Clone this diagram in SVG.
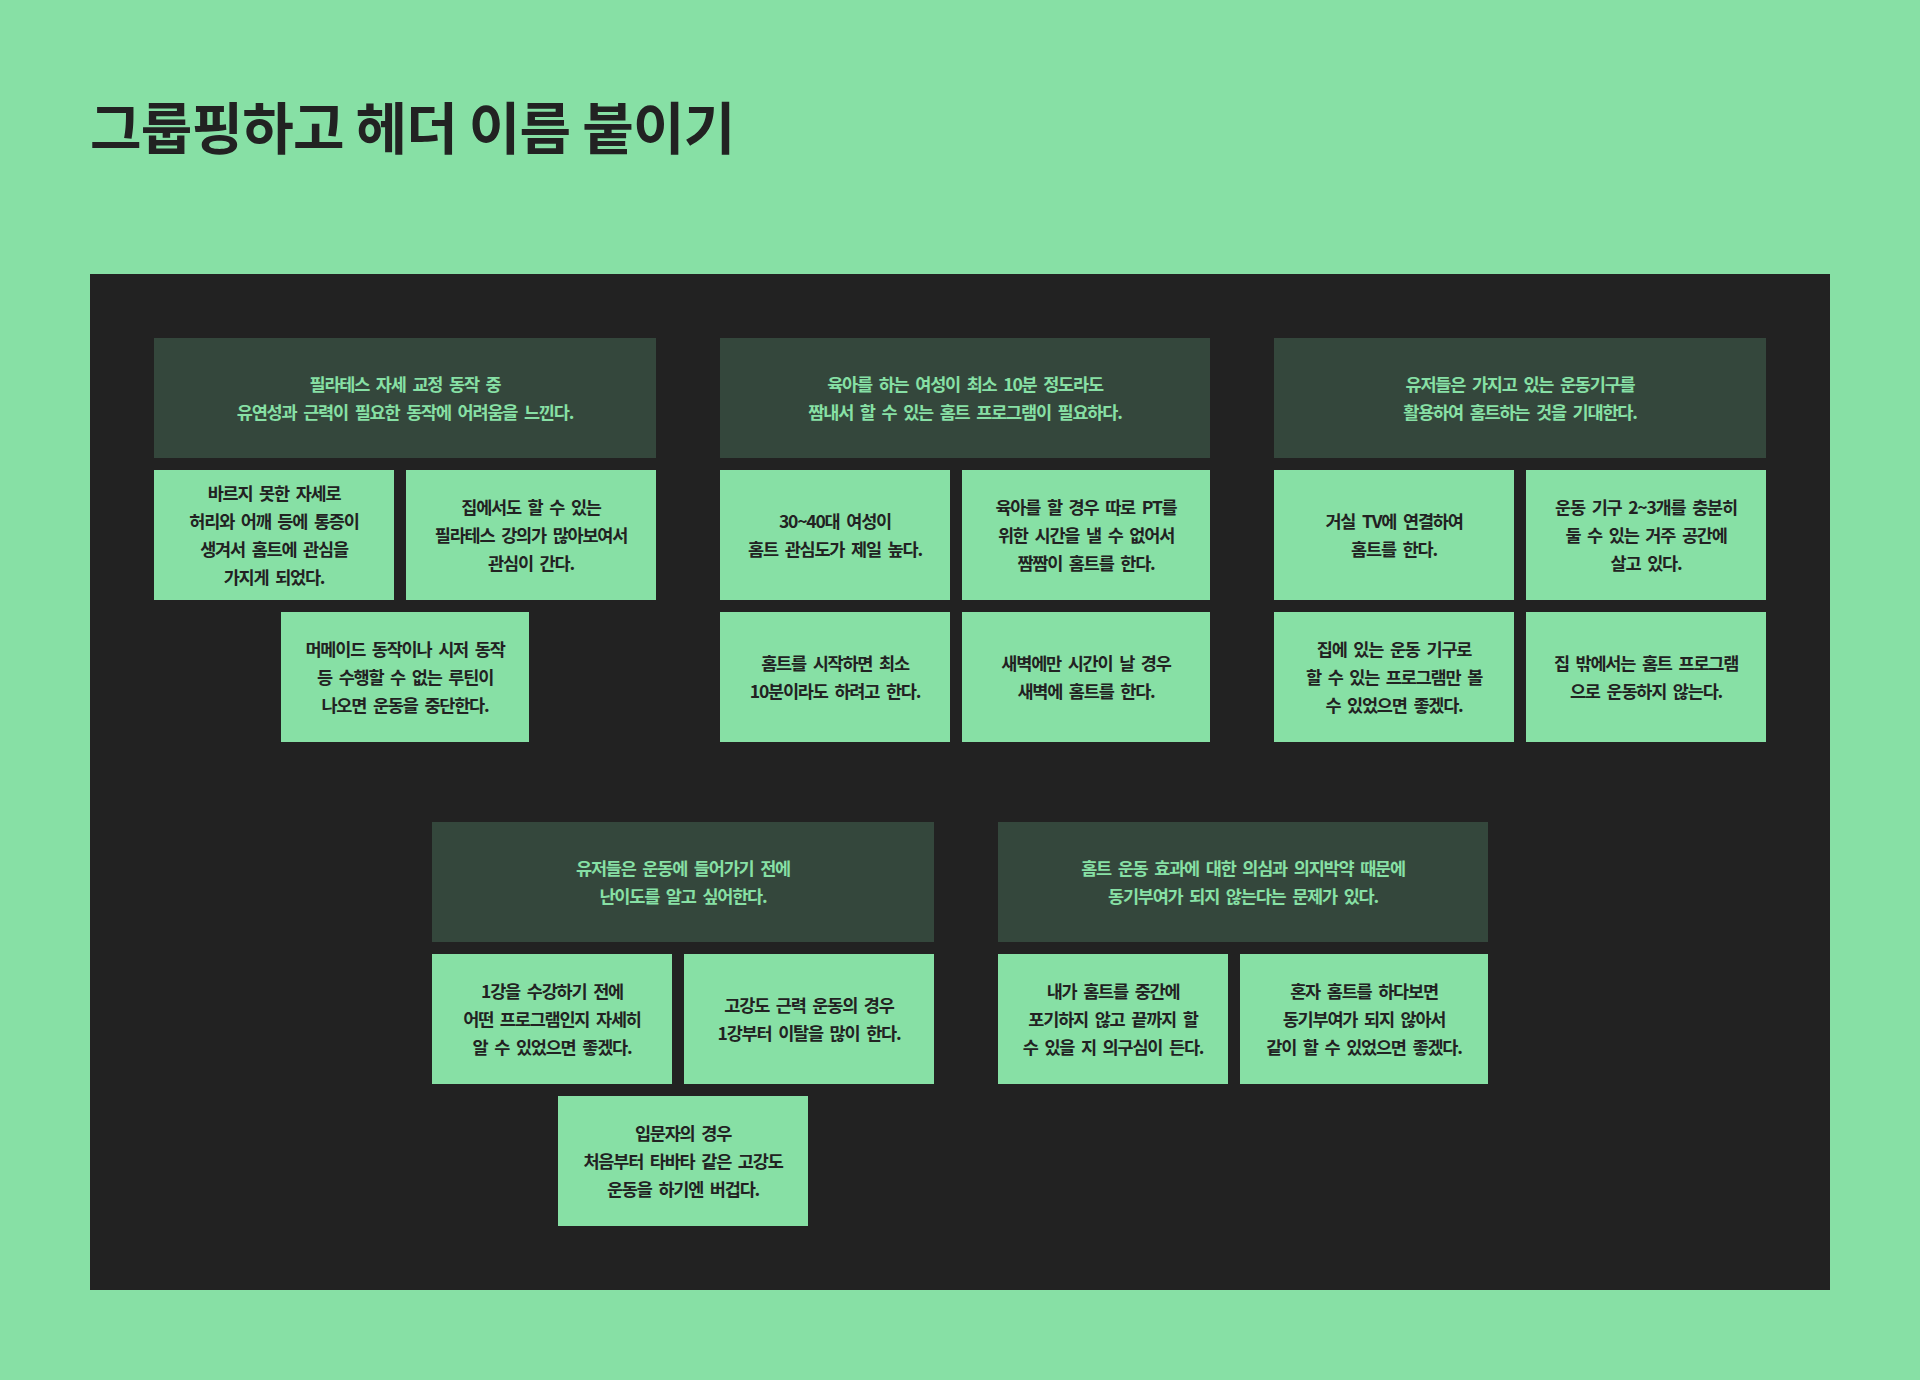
<svg xmlns="http://www.w3.org/2000/svg" width="1920" height="1380" viewBox="0 0 1920 1380">
<style>
.bg{fill:#87E0A5}
.panel{fill:#222222}
.hd{fill:#34473C}
.cd{fill:#87E0A5}
.title{font-family:"Noto Sans CJK KR","Noto Sans",sans-serif;font-size:56px;font-weight:700;fill:#222222;letter-spacing:-0.8px;word-spacing:0px}
.ht{font-family:"Noto Sans CJK KR","Noto Sans",sans-serif;font-size:17.5px;font-weight:600;fill:#87E0A5;text-anchor:middle;letter-spacing:-1.2px;word-spacing:4px}
.ct{font-family:"Noto Sans CJK KR","Noto Sans",sans-serif;font-size:17.5px;font-weight:700;fill:#222222;text-anchor:middle;letter-spacing:-1.2px;word-spacing:4px}
</style>
<rect class="bg" x="0" y="0" width="1920" height="1380"/>
<text id="title" class="title" x="90" y="149">그룹핑하고 헤더 이름 붙이기</text>
<rect id="panel" class="panel" x="90" y="274" width="1740" height="1016"/>
<g id="connectors"></g>

<g id="group1">
<g id="g1-header"><rect class="hd" x="154" y="338" width="502" height="120"/>
<text class="ht"><tspan x="405" y="391">필라테스 자세 교정 동작 중</tspan><tspan x="405" y="419">유연성과 근력이 필요한 동작에 어려움을 느낀다.</tspan></text></g>
<g id="g1-a"><rect class="cd" x="154" y="470" width="240" height="130"/>
<text class="ct"><tspan x="274" y="500">바르지 못한 자세로</tspan><tspan x="274" y="528">허리와 어깨 등에 통증이</tspan><tspan x="274" y="556">생겨서 홈트에 관심을</tspan><tspan x="274" y="584">가지게 되었다.</tspan></text></g>
<g id="g1-b"><rect class="cd" x="406" y="470" width="250" height="130"/>
<text class="ct"><tspan x="531" y="514">집에서도 할 수 있는</tspan><tspan x="531" y="542">필라테스 강의가 많아보여서</tspan><tspan x="531" y="570">관심이 간다.</tspan></text></g>
<g id="g1-c"><rect class="cd" x="281" y="612" width="248" height="130"/>
<text class="ct"><tspan x="405" y="656">머메이드 동작이나 시저 동작</tspan><tspan x="405" y="684">등 수행할 수 없는 루틴이</tspan><tspan x="405" y="712">나오면 운동을 중단한다.</tspan></text></g>
</g>

<g id="group2">
<g id="g2-header"><rect class="hd" x="720" y="338" width="490" height="120"/>
<text class="ht"><tspan x="965" y="391">육아를 하는 여성이 최소 10분 정도라도</tspan><tspan x="965" y="419">짬내서 할 수 있는 홈트 프로그램이 필요하다.</tspan></text></g>
<g id="g2-a"><rect class="cd" x="720" y="470" width="230" height="130"/>
<text class="ct"><tspan x="835" y="528">30~40대 여성이</tspan><tspan x="835" y="556">홈트 관심도가 제일 높다.</tspan></text></g>
<g id="g2-b"><rect class="cd" x="962" y="470" width="248" height="130"/>
<text class="ct"><tspan x="1086" y="514">육아를 할 경우 따로 PT를</tspan><tspan x="1086" y="542">위한 시간을 낼 수 없어서</tspan><tspan x="1086" y="570">짬짬이 홈트를 한다.</tspan></text></g>
<g id="g2-c"><rect class="cd" x="720" y="612" width="230" height="130"/>
<text class="ct"><tspan x="835" y="670">홈트를 시작하면 최소</tspan><tspan x="835" y="698">10분이라도 하려고 한다.</tspan></text></g>
<g id="g2-d"><rect class="cd" x="962" y="612" width="248" height="130"/>
<text class="ct"><tspan x="1086" y="670">새벽에만 시간이 날 경우</tspan><tspan x="1086" y="698">새벽에 홈트를 한다.</tspan></text></g>
</g>

<g id="group3">
<g id="g3-header"><rect class="hd" x="1274" y="338" width="492" height="120"/>
<text class="ht"><tspan x="1520" y="391">유저들은 가지고 있는 운동기구를</tspan><tspan x="1520" y="419">활용하여 홈트하는 것을 기대한다.</tspan></text></g>
<g id="g3-a"><rect class="cd" x="1274" y="470" width="240" height="130"/>
<text class="ct"><tspan x="1394" y="528">거실 TV에 연결하여</tspan><tspan x="1394" y="556">홈트를 한다.</tspan></text></g>
<g id="g3-b"><rect class="cd" x="1526" y="470" width="240" height="130"/>
<text class="ct"><tspan x="1646" y="514">운동 기구 2~3개를 충분히</tspan><tspan x="1646" y="542">둘 수 있는 거주 공간에</tspan><tspan x="1646" y="570">살고 있다.</tspan></text></g>
<g id="g3-c"><rect class="cd" x="1274" y="612" width="240" height="130"/>
<text class="ct"><tspan x="1394" y="656">집에 있는 운동 기구로</tspan><tspan x="1394" y="684">할 수 있는 프로그램만 볼</tspan><tspan x="1394" y="712">수 있었으면 좋겠다.</tspan></text></g>
<g id="g3-d"><rect class="cd" x="1526" y="612" width="240" height="130"/>
<text class="ct"><tspan x="1646" y="670">집 밖에서는 홈트 프로그램</tspan><tspan x="1646" y="698">으로 운동하지 않는다.</tspan></text></g>
</g>

<g id="group4">
<g id="g4-header"><rect class="hd" x="432" y="822" width="502" height="120"/>
<text class="ht"><tspan x="683" y="875">유저들은 운동에 들어가기 전에</tspan><tspan x="683" y="903">난이도를 알고 싶어한다.</tspan></text></g>
<g id="g4-a"><rect class="cd" x="432" y="954" width="240" height="130"/>
<text class="ct"><tspan x="552" y="998">1강을 수강하기 전에</tspan><tspan x="552" y="1026">어떤 프로그램인지 자세히</tspan><tspan x="552" y="1054">알 수 있었으면 좋겠다.</tspan></text></g>
<g id="g4-b"><rect class="cd" x="684" y="954" width="250" height="130"/>
<text class="ct"><tspan x="809" y="1012">고강도 근력 운동의 경우</tspan><tspan x="809" y="1040">1강부터 이탈을 많이 한다.</tspan></text></g>
<g id="g4-c"><rect class="cd" x="558" y="1096" width="250" height="130"/>
<text class="ct"><tspan x="683" y="1140">입문자의 경우</tspan><tspan x="683" y="1168">처음부터 타바타 같은 고강도</tspan><tspan x="683" y="1196">운동을 하기엔 버겁다.</tspan></text></g>
</g>

<g id="group5">
<g id="g5-header"><rect class="hd" x="998" y="822" width="490" height="120"/>
<text class="ht"><tspan x="1243" y="875">홈트 운동 효과에 대한 의심과 의지박약 때문에</tspan><tspan x="1243" y="903">동기부여가 되지 않는다는 문제가 있다.</tspan></text></g>
<g id="g5-a"><rect class="cd" x="998" y="954" width="230" height="130"/>
<text class="ct"><tspan x="1113" y="998">내가 홈트를 중간에</tspan><tspan x="1113" y="1026">포기하지 않고 끝까지 할</tspan><tspan x="1113" y="1054">수 있을 지 의구심이 든다.</tspan></text></g>
<g id="g5-b"><rect class="cd" x="1240" y="954" width="248" height="130"/>
<text class="ct"><tspan x="1364" y="998">혼자 홈트를 하다보면</tspan><tspan x="1364" y="1026">동기부여가 되지 않아서</tspan><tspan x="1364" y="1054">같이 할 수 있었으면 좋겠다.</tspan></text></g>
</g>
</svg>
